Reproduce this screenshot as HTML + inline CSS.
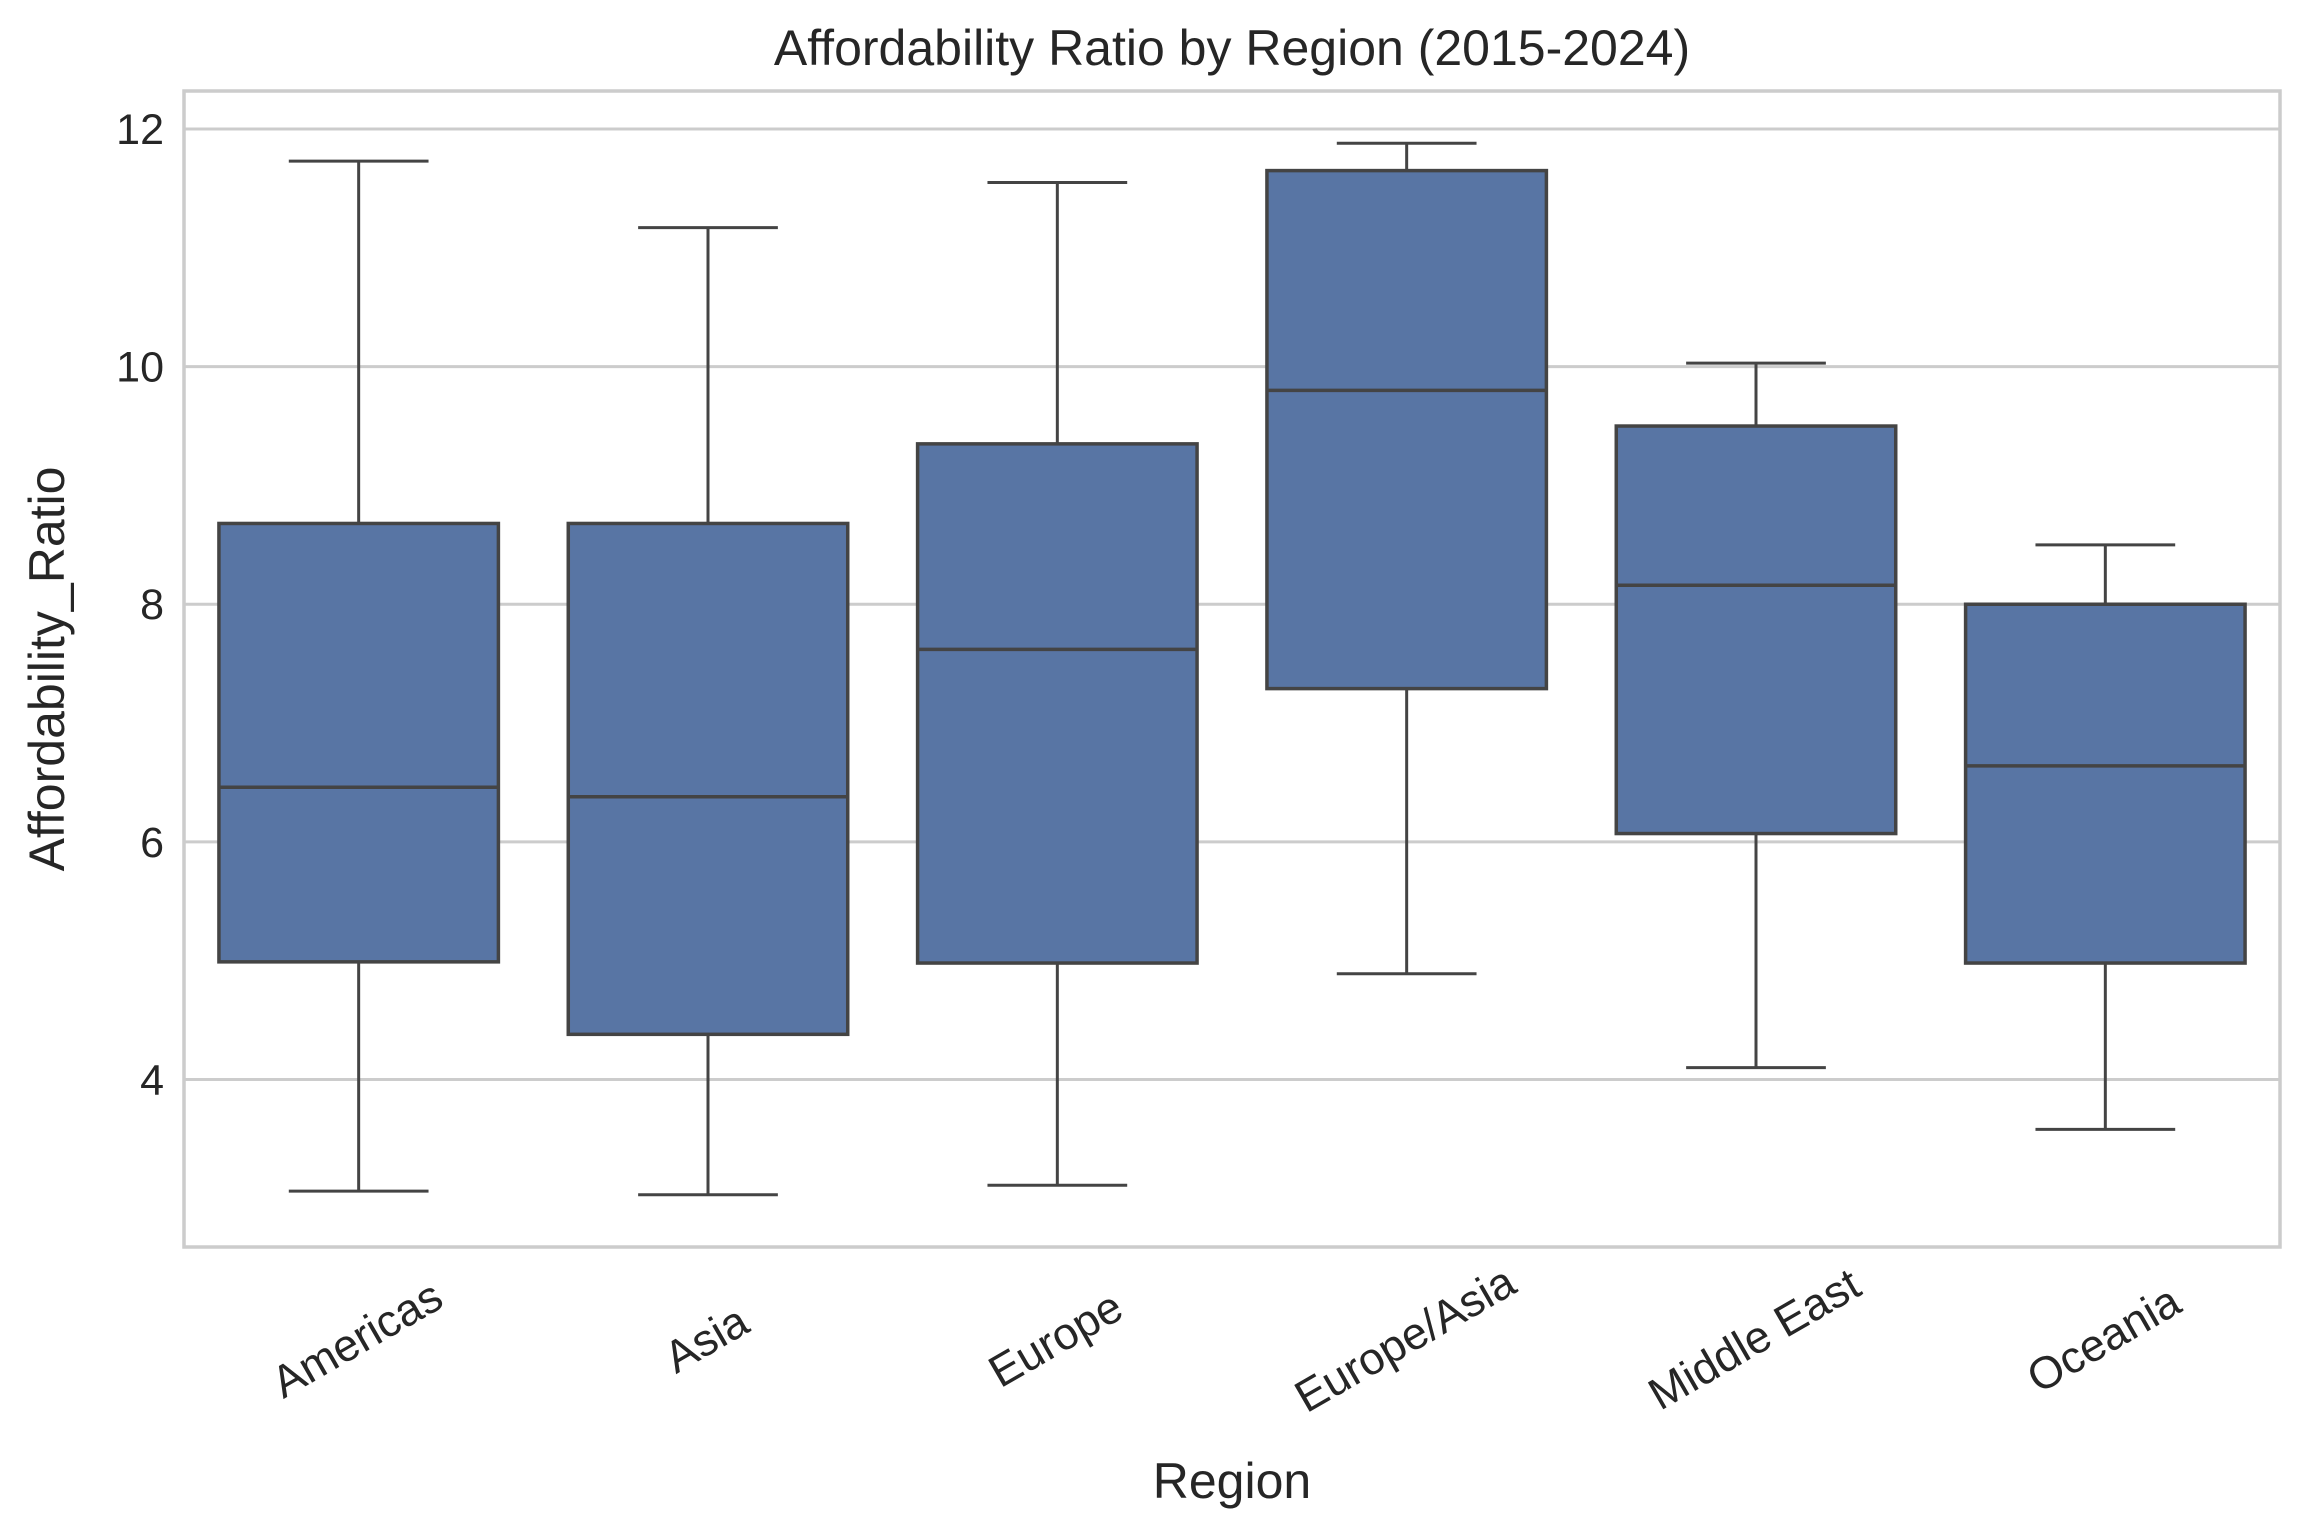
<!DOCTYPE html>
<html><head><meta charset="utf-8"><style>
html,body{margin:0;padding:0;background:#fff;}
svg{display:block;font-family:"Liberation Sans",Arial,sans-serif;}
</style></head><body>
<svg id="chart" width="2306" height="1540" viewBox="0 0 2306 1540">
<g id="grid"></g>
<g id="boxes"></g>
<rect x="184" y="91" width="2096" height="1156" fill="none" stroke="#cccccc" stroke-width="3.5"/>
<g id="yticks"></g>
<g id="xticks"></g>
<text x="1232" y="65" text-anchor="middle" font-size="50" fill="#262626">Affordability Ratio by Region (2015-2024)</text>
<text x="1232" y="1498" text-anchor="middle" font-size="50" fill="#262626">Region</text>
<text transform="translate(64,669) rotate(-90)" text-anchor="middle" font-size="50" fill="#262626">Affordability_Ratio</text>
</svg>
<script>
const categories = ["Americas","Asia","Europe","Europe/Asia","Middle East","Oceania"];
const whiskerLow = [3.06,3.03,3.11,4.89,4.10,3.58];
const q1 = [4.99,4.38,4.98,7.29,6.07,4.98];
const median = [6.46,6.38,7.62,9.80,8.16,6.64];
const q3 = [8.68,8.68,9.35,11.65,9.50,8.00];
const whiskerHigh = [11.73,11.17,11.55,11.88,10.03,8.50];
const yTicks = [4,6,8,10,12];

const NS="http://www.w3.org/2000/svg";
const L=184,R=2280,T=91,B=1247,YMIN=2.59,YMAX=12.32;
function y(v){return B-(v-YMIN)/(YMAX-YMIN)*(B-T);}
function x(i){return L+(i+0.5)/categories.length*(R-L);}
const bw=(R-L)/categories.length*0.8, cap=bw*0.5;
function mk(tag,attrs,parent){const e=document.createElementNS(NS,tag);for(const k in attrs)e.setAttribute(k,attrs[k]);parent.appendChild(e);return e;}
const grid=document.getElementById('grid'),yt=document.getElementById('yticks'),xt=document.getElementById('xticks'),bx=document.getElementById('boxes');
yTicks.forEach(t=>{
  const g=mk('line',{x1:L,x2:R,y1:y(t),y2:y(t),stroke:'#cccccc','stroke-width':3},grid);
  
  
  const tx=mk('text',{x:L-20,y:y(t)+15,'text-anchor':'end','font-size':43,fill:'#262626'},yt);
  tx.textContent=t;
  
  
});
categories.forEach((c,i)=>{
  const cx=x(i);
  const g=mk('g',{},bx);
  
  
  const st={stroke:'#444444','stroke-width':3};
  mk('line',Object.assign({x1:cx,x2:cx,y1:y(whiskerLow[i]),y2:y(q1[i])},st),g);
  mk('line',Object.assign({x1:cx,x2:cx,y1:y(q3[i]),y2:y(whiskerHigh[i])},st),g);
  mk('line',Object.assign({x1:cx-cap/2,x2:cx+cap/2,y1:y(whiskerLow[i]),y2:y(whiskerLow[i])},st),g);
  mk('line',Object.assign({x1:cx-cap/2,x2:cx+cap/2,y1:y(whiskerHigh[i]),y2:y(whiskerHigh[i])},st),g);
  mk('rect',{x:cx-bw/2,y:y(q3[i]),width:bw,height:y(q1[i])-y(q3[i]),fill:'#5875a4',stroke:'#444444','stroke-width':3.5},g);
  mk('line',Object.assign({x1:cx-bw/2,x2:cx+bw/2,y1:y(median[i]),y2:y(median[i])},st,{'stroke-width':3.5}),g);
  const tx=mk('text',{x:cx,y:1342,'text-anchor':'middle','font-size':45,fill:'#262626',transform:'rotate(-30 '+cx+' 1342)','dominant-baseline':'middle'},xt);
  tx.textContent=c;
  
  
});
</script>
</body></html>
